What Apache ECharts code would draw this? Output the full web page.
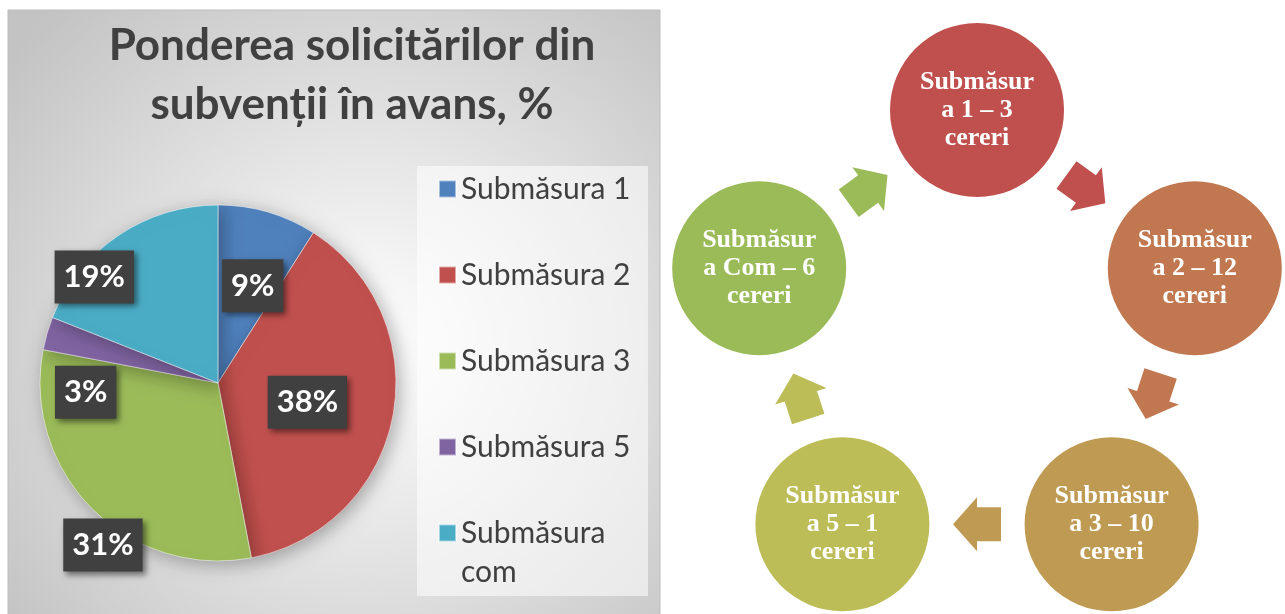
<!DOCTYPE html>
<html>
<head>
<meta charset="utf-8">
<script src="https://cdn.jsdelivr.net/npm/echarts@6/dist/echarts.min.js"></script>
<style>
  html, body { margin: 0; padding: 0; background: #fff; }
  #chart { width: 1285px; height: 614px; }
</style>
</head>
<body>
<div id="chart"></div>
<script>
// pie data
const categories = ['Submăsura 1', 'Submăsura 2', 'Submăsura 3', 'Submăsura 5', 'Submăsura com']
const shares = [9, 38, 31, 3, 19]
const pieColors = ['#4f81bd', '#c0504d', '#9bbb59', '#8064a2', '#4bacc6']

// cycle diagram data (clockwise from top)
const cycleNames = ['1', '2', '3', '5', 'Com']
const cycleRequests = [3, 12, 10, 1, 6]
const cycleColors = ['#c0504d', '#c1774f', '#bf9a52', '#bdbd58', '#9bbb59']

// label box shifts (Excel "best fit" placement)
const labelShift = [[9, -9], [-1, 2], [-50, 97], [-44, 35], [-72, -30]]

const chart = echarts.init(document.getElementById('chart'))

const step = 360 / cycleNames.length
const arrowPath = 'path://M0,10 L24,10 L24,0 L48,27 L24,54 L24,44 L0,44 Z'

const nodes = cycleNames.map((n, i) => ({
  value: [1, i * step],
  name: 'Submăsur\na ' + n + ' – ' + cycleRequests[i] + '\ncereri',
  itemStyle: { color: cycleColors[i] }
}))
const arrows = cycleNames.map((n, i) => ({
  value: [Math.cos(Math.PI / cycleNames.length), i * step + step / 2],
  symbolRotate: -(i * step + step / 2),
  itemStyle: { color: cycleColors[i] }
}))

const legendText = { fontFamily: 'Lato', fontSize: 30, lineHeight: 39, color: '#404040' }

const option = {
  animation: false,
  graphic: [
    {
      type: 'rect', z: -10,
      shape: { x: 8, y: 10, width: 652, height: 610 },
      style: {
        fill: {
          type: 'radial', x: 0.55, y: 0.55, r: 0.75,
          colorStops: [{ offset: 0, color: '#ffffff' }, { offset: 1, color: '#c3c3c3' }]
        },
        stroke: '#bdbdbd', lineWidth: 1
      }
    },
    {
      type: 'rect', z: -5,
      shape: { x: 417, y: 166, width: 231, height: 430 },
      style: { fill: 'rgba(255,255,255,0.55)' }
    }
  ],
  title: {
    text: 'Ponderea solicitărilor din\nsubvenții în avans, %',
    left: 347, top: 11, textAlign: 'center',
    textStyle: { fontFamily: 'Lato', fontWeight: 'bold', fontSize: 44, lineHeight: 59, color: '#404040' }
  },
  legend: [
    {
      data: categories.slice(0, 4),
      orient: 'vertical', left: 438, top: 169.5, padding: 0, itemGap: 47,
      icon: 'rect', itemWidth: 17, itemHeight: 17, selectedMode: false,
      textStyle: legendText
    },
    {
      data: [categories[4]],
      formatter: () => ' \nSubmăsura\ncom',
      orient: 'vertical', left: 438, top: 474.5, padding: 0,
      icon: 'rect', itemWidth: 17, itemHeight: 17, selectedMode: false,
      textStyle: legendText
    }
  ],
  polar: { center: [977, 339], radius: 229 },
  angleAxis: { type: 'value', min: 0, max: 360, startAngle: 90, clockwise: true, show: false },
  radiusAxis: { type: 'value', min: 0, max: 1, show: false },
  series: [
    {
      type: 'pie',
      center: [218, 383],
      radius: 178,
      data: categories.map((c, i) => ({ name: c, value: shares[i], itemStyle: { color: pieColors[i] } })),
      itemStyle: {
        borderColor: 'rgba(255,255,255,0.5)', borderWidth: 1,
        shadowBlur: 18, shadowColor: 'rgba(0,0,0,0.3)', shadowOffsetX: 4, shadowOffsetY: 4
      },
      label: {
        position: 'inside',
        formatter: '{c}%',
        fontFamily: 'Lato', fontWeight: 'bold', fontSize: 31, color: '#fff',
        backgroundColor: '#404040', padding: [12, 9, 10, 9],
        shadowBlur: 6, shadowColor: 'rgba(0,0,0,0.5)', shadowOffsetX: 3, shadowOffsetY: 3
      },
      labelLayout: (p) => ({ dx: labelShift[p.dataIndex][0], dy: labelShift[p.dataIndex][1] }),
      emphasis: { disabled: true }
    },
    {
      type: 'scatter',
      coordinateSystem: 'polar',
      symbol: 'circle',
      symbolSize: 174,
      data: nodes,
      itemStyle: { opacity: 1 },
      label: {
        show: true, position: 'inside',
        formatter: (p) => p.name,
        fontFamily: 'Liberation Serif', fontWeight: 'bold', fontSize: 26, lineHeight: 28, color: '#fff'
      },
      emphasis: { disabled: true }
    },
    {
      type: 'scatter',
      coordinateSystem: 'polar',
      symbol: arrowPath,
      symbolSize: [48, 54],
      data: arrows,
      itemStyle: { opacity: 1 },
      emphasis: { disabled: true }
    }
  ]
}

chart.setOption(option)
</script>
</body>
</html>
